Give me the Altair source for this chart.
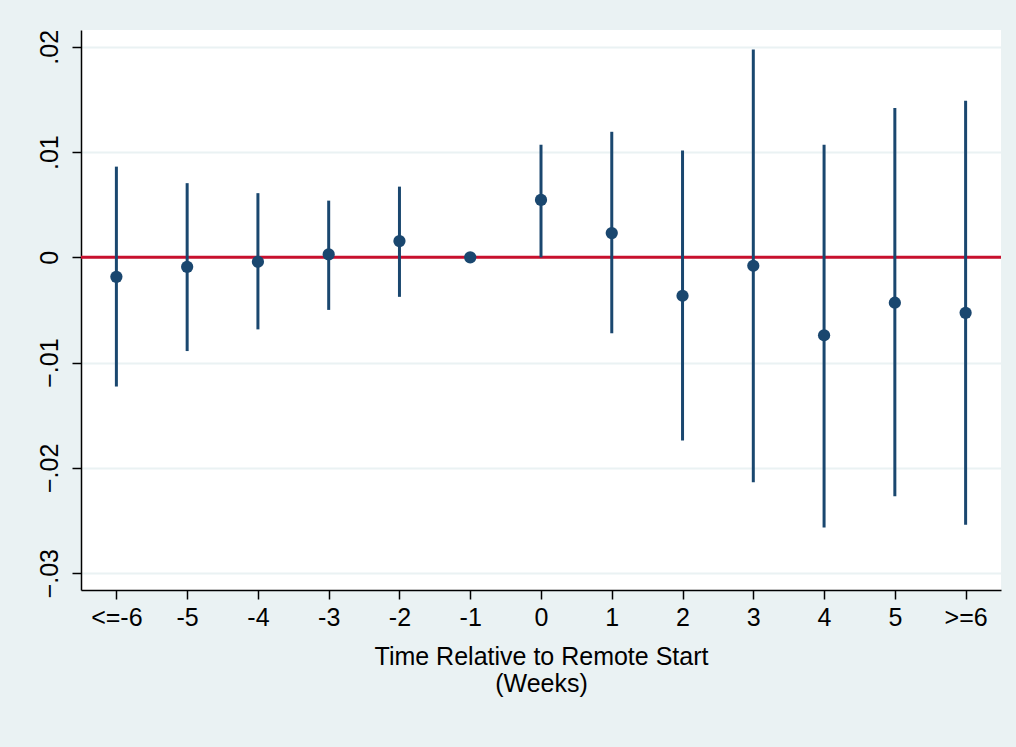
import altair as alt
import pandas as pd

weeks = ["<=-6", "-5", "-4", "-3", "-2", "-1", "0", "1", "2", "3", "4", "5", ">=6"]
coef = [-0.00185, -0.00090, -0.00042, 0.00028, 0.00155, 0.0, 0.00546, 0.00231, -0.00365, -0.00080, -0.00740, -0.00431, -0.00527]
ci_hi = [0.00862, 0.00705, 0.00610, 0.00539, 0.00672, None, 0.01070, 0.01193, 0.01016, 0.01974, 0.01070, 0.01419, 0.01489]
ci_lo = [-0.01227, -0.00890, -0.00684, -0.00499, -0.00375, None, 0.0, -0.00721, -0.01740, -0.02137, -0.02566, -0.02270, -0.02541]
y_ticks = [-0.03, -0.02, -0.01, 0.0, 0.01, 0.02]

df = pd.DataFrame({"week": weeks, "coef": coef, "hi": ci_hi, "lo": ci_lo})
ci_df = df.dropna(subset=["hi", "lo"])
zero_df = pd.DataFrame({"zero": [0.0]})

FONT = "Liberation Sans"
NAVY = "#1A476F"

xenc = alt.X(
    "week:N",
    sort=weeks,
    scale=alt.Scale(type="point", padding=0.5),
    axis=alt.Axis(
        title=["Time Relative to Remote Start", "(Weeks)"],
        labelAngle=0,
        labelFont=FONT, labelFontSize=25, labelColor="black",
        titleFont=FONT, titleFontSize=25, titleFontWeight="normal", titleColor="black",
        titleLineHeight=27, titlePadding=14,
        tickSize=9, tickColor="black", tickWidth=1.5,
        domainColor="black", domainWidth=1.5,
        labelPadding=6, grid=False,
    ),
)
yscale = alt.Scale(domain=[-0.0316, 0.0216], nice=False, zero=False)
yaxis = alt.Axis(
    title=None,
    values=y_ticks,
    labelExpr="datum.value == 0 ? '0' : replace(format(datum.value, '.2f'), '0.', '.')",
    labelAngle=270, labelAlign="center", labelBaseline="bottom",
    labelFont=FONT, labelFontSize=25, labelColor="black", labelPadding=10,
    tickSize=9, tickColor="black", tickWidth=1.5,
    domainColor="black", domainWidth=1.5,
    grid=True, gridColor="#EAF2F3", gridWidth=2,
)

zero_line = alt.Chart(zero_df).mark_rule(color="#C8102E", strokeWidth=3).encode(
    y=alt.Y("zero:Q", scale=yscale, axis=yaxis)
)
bars = alt.Chart(ci_df).mark_rule(color=NAVY, strokeWidth=3).encode(
    x=xenc,
    y=alt.Y("lo:Q", scale=yscale, axis=yaxis),
    y2="hi:Q",
)
points = alt.Chart(df).mark_point(filled=True, color=NAVY, opacity=1, size=150, shape="circle").encode(
    x=xenc,
    y=alt.Y("coef:Q", scale=yscale, axis=yaxis),
)

chart = alt.layer(zero_line, bars, points).properties(
    width=920, height=560,
    background="#EAF2F3",
    padding={"left": 81, "top": 30, "right": 15, "bottom": 157},
    autosize=alt.AutoSizeParams(type="none"),
).configure_view(fill="white", stroke=None)

chart.save("out.html", embed_options={"renderer": "svg", "actions": False})
